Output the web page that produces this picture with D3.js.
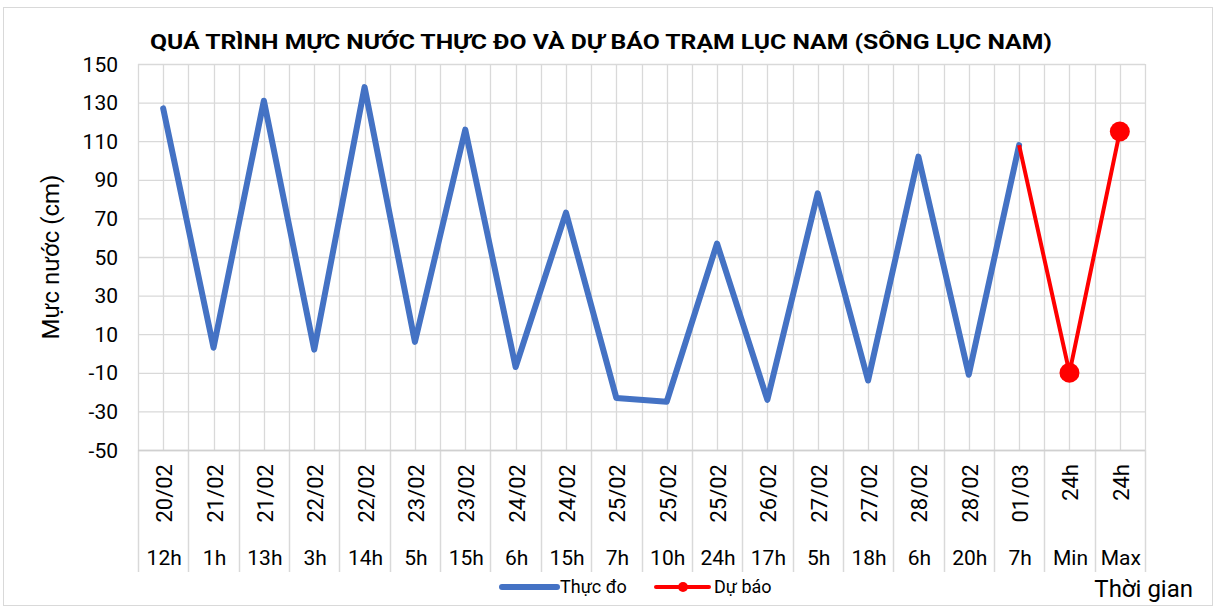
<!DOCTYPE html>
<html><head><meta charset="utf-8">
<script src="https://cdn.jsdelivr.net/npm/d3@7"></script>
<style>body{margin:0;background:#fff}svg{display:block}text{font-family:Roboto,"Liberation Sans",sans-serif;fill:#000}</style>
</head><body>
<svg id="c" width="1217" height="610"></svg>
<script>
const dates = ["20/02","21/02","21/02","22/02","22/02","23/02","23/02","24/02","24/02","25/02","25/02","25/02","26/02","27/02","27/02","28/02","28/02","01/03","24h","24h"];
const hours = ["12h","1h","13h","3h","14h","5h","15h","6h","15h","7h","10h","24h","17h","5h","18h","6h","20h","7h","Min","Max"];
const observed = [127,3,131,2,138,6,116,-7,73,-23,-25,57,-24,83,-14,102,-11,108];
const forecast = [108,-10,115]; // starts at category index 17
const forecastStart = 17;
const yTicks = [-50,-30,-10,10,30,50,70,90,110,130,150];
const title = "QUÁ TRÌNH MỰC NƯỚC THỰC ĐO VÀ DỰ BÁO TRẠM LỤC NAM (SÔNG LỤC NAM)";
const seriesNames = ["Thực đo","Dự báo"];

const svg = d3.select("#c");
const L = 138, R = 1145, T = 64, B = 450;
const grid = "#d9d9d9";

svg.append("rect").attr("x",3.5).attr("y",7.5).attr("width",1209).attr("height",598)
  .attr("fill","#fff").attr("stroke","#d9d9d9");

const idx = d3.range(dates.length);
const x = d3.scaleBand().domain(idx).range([L,R]).paddingInner(0).paddingOuter(0);
const cx = i => x(i) + x.bandwidth()/2;
const y = d3.scaleLinear().domain([-50,150]).range([B,T]);

// horizontal gridlines
svg.append("g").selectAll("line").data(yTicks).join("line")
  .attr("x1",L).attr("x2",R).attr("y1",d=>y(d)+0.5).attr("y2",d=>y(d)+0.5)
  .attr("stroke",grid).attr("stroke-width",1.3);
// vertical gridlines at boundaries and centers
const vlines = [];
idx.forEach(i=>{vlines.push(x(i)); vlines.push(cx(i));});
vlines.push(R);
svg.append("g").selectAll("line").data(vlines).join("line")
  .attr("x1",d=>Math.round(d)+0.5).attr("x2",d=>Math.round(d)+0.5).attr("y1",T).attr("y2",B)
  .attr("stroke",grid).attr("stroke-width",1.3);

// category separators below axis
const seps = idx.map(i=>x(i)).concat([R]);
svg.append("g").selectAll("line").data(seps).join("line")
  .attr("x1",d=>Math.round(d)+0.5).attr("x2",d=>Math.round(d)+0.5).attr("y1",B).attr("y2",572)
  .attr("stroke",grid).attr("stroke-width",1.5);
svg.append("line").attr("x1",L).attr("x2",R).attr("y1",B+0.5).attr("y2",B+0.5).attr("stroke","#d0d0d0").attr("stroke-width",1.5);

// y tick labels
svg.append("g").selectAll("text").data(yTicks).join("text")
  .attr("x",118).attr("y",d=>y(d)).attr("dy","0.36em").attr("text-anchor","end")
  .style("font-size","21px").text(d=>d);

// date labels (rotated)
svg.append("g").selectAll("text").data(idx).join("text")
  .attr("transform",i=>`translate(${cx(i)+9},464) rotate(-90)`)
  .attr("text-anchor","end").style("font-size","22px").text(i=>dates[i]);
// hour labels
svg.append("g").selectAll("text").data(idx).join("text")
  .attr("x",i=>cx(i)+1).attr("y",565).attr("text-anchor","middle")
  .style("font-size","21px").text(i=>hours[i]);

// lines
const line = d3.line().x(d=>cx(d.i)).y(d=>y(d.v));
const obsData = observed.map((v,i)=>({i,v}));
const fcData = forecast.map((v,k)=>({i:forecastStart+k,v}));
svg.append("path").datum(obsData).attr("d",line).attr("fill","none")
  .attr("stroke","#4472C4").attr("stroke-width",6).attr("stroke-linejoin","round").attr("stroke-linecap","round");
svg.append("path").datum(fcData).attr("d",line).attr("fill","none")
  .attr("stroke","#FF0000").attr("stroke-width",4).attr("stroke-linejoin","round");
svg.append("g").selectAll("circle").data(fcData.slice(1)).join("circle")
  .attr("cx",d=>cx(d.i)).attr("cy",d=>y(d.v)).attr("r",10).attr("fill","#FF0000");

// title
svg.append("text").attr("x",601).attr("y",49).attr("text-anchor","middle")
  .style("font-size","21px").style("font-weight","bold")
  .attr("textLength",902).attr("lengthAdjust","spacingAndGlyphs").text(title);

// y axis title
svg.append("text").attr("transform","translate(59,257) rotate(-90)").attr("text-anchor","middle")
  .style("font-size","24px").text("Mực nước (cm)");
// x axis title
svg.append("text").attr("x",1193).attr("y",597).attr("text-anchor","end")
  .style("font-size","24px").text("Thời gian");

// legend
const lg = svg.append("g");
lg.append("line").attr("x1",502).attr("x2",557).attr("y1",587).attr("y2",587)
  .attr("stroke","#4472C4").attr("stroke-width",6).attr("stroke-linecap","round");
lg.append("text").attr("x",560).attr("y",587).attr("dy","0.35em").style("font-size","18px").text(seriesNames[0]);
lg.append("line").attr("x1",656).attr("x2",709).attr("y1",587).attr("y2",587)
  .attr("stroke","#FF0000").attr("stroke-width",4).attr("stroke-linecap","round");
lg.append("circle").attr("cx",683).attr("cy",587).attr("r",5).attr("fill","#FF0000");
lg.append("text").attr("x",714).attr("y",587).attr("dy","0.35em").style("font-size","18px").text(seriesNames[1]);
</script>
</body></html>
